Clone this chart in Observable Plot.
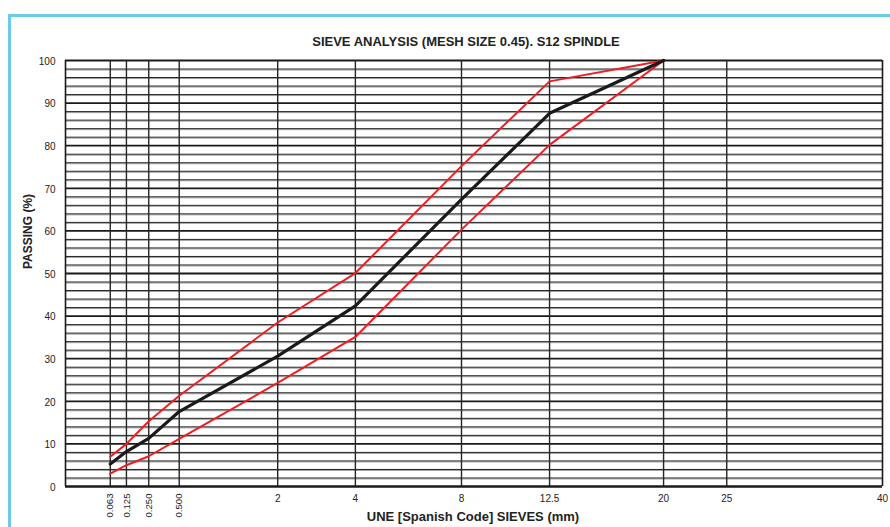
<!DOCTYPE html>
<html>
<head>
<meta charset="utf-8">
<script src="https://cdn.jsdelivr.net/npm/d3@7"></script>
<script src="https://cdn.jsdelivr.net/npm/@observablehq/plot@0.6"></script>
<style>
  html, body { margin: 0; padding: 0; background: #fff; overflow: hidden; width: 890px; height: 527px; }
  #frame { position: absolute; left: 8px; top: 14px; width: 900px; height: 600px;
           border-left: 3px solid #6ccbe8; border-top: 3px solid #6ccbe8; box-sizing: border-box; }
  #chart { position: absolute; left: 0; top: 0; }
</style>
</head>
<body>
<div id="frame"></div>
<div id="chart"></div>
<script>
// Sieve sizes (mm) and passing percentages
const sieves = [0.063, 0.125, 0.25, 0.5, 2, 4, 8, 12.5, 20];
const passing = [5.3, 8.2, 11.3, 17.6, 30.6, 42.4, 67.4, 87.6, 100];
const upperLimit = [7, 10, 15.3, 21.3, 38.5, 50.1, 75.2, 95.1, 100];
const lowerLimit = [3, 5, 7.1, 11.2, 24.3, 35.1, 60.3, 80.2, 100];

// Axis tick labels
const smallTicks = [0.063, 0.125, 0.25, 0.5];
const smallLabels = ["0.063", "0.125", "0.250", "0.500"];
const bigTicks = [2, 4, 8, 12.5, 20, 25, 40];
const bigLabels = ["2", "4", "8", "12.5", "20", "25", "40"];
const yTicks = [0, 10, 20, 30, 40, 50, 60, 70, 80, 90, 100];
const yMinor = d3.range(2, 100, 2).filter(v => v % 10 !== 0);
const yMajor = [10, 20, 30, 40, 50, 60, 70, 80, 90, 100];

const titleText = "SIEVE ANALYSIS (MESH SIZE 0.45). S12 SPINDLE";
const xLabel = "UNE [Spanish Code] SIEVES (mm)";
const yLabel = "PASSING (%)";

const toRows = vals => sieves.map((s, i) => ({size: s, pct: vals[i]}));
const allTicks = smallTicks.concat(bigTicks.slice(0, -1));

const chart = Plot.plot({
  width: 890,
  height: 527,
  marginLeft: 65,
  marginRight: 8,
  marginTop: 60,
  marginBottom: 41,
  style: {fontFamily: "'Liberation Sans', Arial, sans-serif", background: "transparent", color: "#222"},
  x: {type: "pow", exponent: 0.45, domain: [0, 40], axis: null},
  y: {domain: [0, 100], axis: null},
  marks: [
    Plot.ruleY(yMinor, {stroke: "#a0a0a0", strokeWidth: 1, dy: 1}),
    Plot.ruleY(yMinor, {stroke: "#222", strokeWidth: 1}),
    Plot.ruleY(yMajor, {stroke: "#1a1a1a", strokeWidth: 1.8}),
    Plot.ruleX(allTicks, {stroke: "#262626", strokeWidth: 1.4}),
    Plot.ruleX([0, 40], {stroke: "#1a1a1a", strokeWidth: 1.6}),
    Plot.ruleY([0], {stroke: "#1a1a1a", strokeWidth: 2.4}),
    Plot.line(toRows(upperLimit), {x: "size", y: "pct", stroke: "#ee1d23", strokeWidth: 2}),
    Plot.line(toRows(lowerLimit), {x: "size", y: "pct", stroke: "#ee1d23", strokeWidth: 2}),
    Plot.line(toRows(passing), {x: "size", y: "pct", stroke: "#1a1a1a", strokeWidth: 3.2}),
    // y tick labels
    Plot.text(yTicks, {x: 0, y: d => d, text: d => String(d), textAnchor: "end", dx: -10, dy: 1, fontSize: 10, fill: "#222"}),
    // x tick labels (rotated small sieves)
    Plot.text(smallTicks, {x: d => d, y: 0, text: (d, i) => smallLabels[i], rotate: -90, textAnchor: "end", dy: 7, fontSize: 9.6, fill: "#222"}),
    // x tick labels (horizontal)
    Plot.text(bigTicks, {x: d => d, y: 0, text: (d, i) => bigLabels[i], lineAnchor: "top", dy: 8, fontSize: 10, fill: "#222"}),
    // title
    Plot.text([titleText], {frameAnchor: "top", text: d => d, lineAnchor: "bottom", dy: -15, dx: -8, fontSize: 13, fontWeight: "bold", fill: "#222"}),
    // x label
    Plot.text([xLabel], {frameAnchor: "bottom", text: d => d, lineAnchor: "bottom", dy: 34, dx: -1, fontSize: 13, fontWeight: "bold", fill: "#222"}),
    // y label
    Plot.text([yLabel], {frameAnchor: "left", text: d => d, rotate: -90, dx: -37, dy: -4.5, fontSize: 12, fontWeight: "bold", fill: "#222"})
  ]
});
document.getElementById("chart").appendChild(chart);
</script>
</body>
</html>
